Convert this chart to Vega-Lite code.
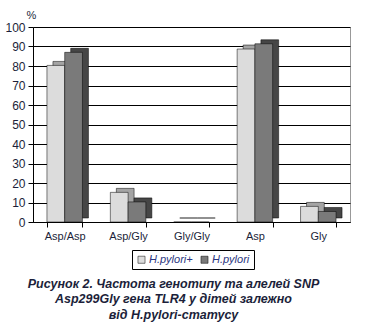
{
  "$schema": "https://vega.github.io/schema/vega-lite/v6.json",
  "width": 317,
  "height": 195,
  "autosize": {"type": "none"},
  "padding": {"left": 33, "top": 27, "right": 18, "bottom": 108},
  "background": "white",
  "data": {
    "values": [
      {"category": "Asp/Asp", "group": "H.pylori+", "value": 80.3},
      {"category": "Asp/Asp", "group": "H.pylori", "value": 87.0},
      {"category": "Asp/Gly", "group": "H.pylori+", "value": 15.2},
      {"category": "Asp/Gly", "group": "H.pylori", "value": 10.3},
      {"category": "Gly/Gly", "group": "H.pylori+", "value": 0},
      {"category": "Gly/Gly", "group": "H.pylori", "value": 0},
      {"category": "Asp", "group": "H.pylori+", "value": 88.7},
      {"category": "Asp", "group": "H.pylori", "value": 91.4},
      {"category": "Gly", "group": "H.pylori+", "value": 8.0},
      {"category": "Gly", "group": "H.pylori", "value": 5.4}
    ]
  },
  "title": {
    "text": ["Рисунок 2. Частота генотипу та алелей SNP", "Asp299Gly гена TLR4 у дітей залежно", "від H.pylori-статусу"],
    "orient": "bottom",
    "anchor": "middle",
    "frame": "group",
    "dx": -18,
    "offset": 8,
    "font": "Liberation Sans",
    "fontSize": 12.5,
    "fontWeight": "bold",
    "fontStyle": "italic",
    "lineHeight": 15.5,
    "color": "#1c1f3a"
  },
  "encoding": {
    "x": {
      "field": "category",
      "type": "nominal",
      "sort": ["Asp/Asp", "Asp/Gly", "Gly/Gly", "Asp", "Gly"],
      "scale": {"paddingInner": 0.44, "paddingOuter": 0.22},
      "axis": {
        "title": null,
        "labelAngle": 0,
        "tickBand": "extent",
        "tickSize": 5,
        "tickColor": "#000",
        "domainColor": "#000",
        "labelFont": "Liberation Sans",
        "labelFontSize": 11,
        "labelColor": "#1c1f3a",
        "labelPadding": 3,
        "grid": false
      }
    },
    "y": {
      "field": "value",
      "type": "quantitative",
      "scale": {"domain": [0, 100], "nice": false},
      "axis": {
        "title": "%",
        "titleAngle": 0,
        "titleX": -2,
        "titleY": -12,
        "titleAlign": "center",
        "titleBaseline": "middle",
        "titleFont": "Liberation Sans",
        "titleFontSize": 11,
        "titleFontWeight": "normal",
        "titleColor": "#1c1f3a",
        "values": [0, 10, 20, 30, 40, 50, 60, 70, 80, 90, 100],
        "tickSize": 5,
        "tickColor": "#000",
        "domainColor": "#000",
        "labelFont": "Liberation Sans",
        "labelFontSize": 12,
        "labelColor": "#1c1f3a",
        "labelPadding": 3,
        "grid": true,
        "gridColor": "#000",
        "gridWidth": 1
      }
    }
  },
  "layer": [
    {
      "mark": {"type": "bar", "yOffset": -4, "y2Offset": -4, "stroke": "#000", "strokeWidth": 0.5},
      "encoding": {
        "xOffset": {
          "field": "group",
          "type": "nominal",
          "sort": ["H.pylori+", "H.pylori"],
          "scale": {"paddingInner": 0, "paddingOuter": 0, "range": [6, 41.5]}
        },
        "fill": {
          "field": "group",
          "type": "nominal",
          "sort": ["H.pylori+", "H.pylori"],
          "scale": {"domain": ["H.pylori+", "H.pylori"], "range": ["#a4a4a4", "#464646"]},
          "legend": null
        }
      }
    },
    {
      "mark": {"type": "bar", "stroke": "#000", "strokeWidth": 0.5},
      "encoding": {
        "xOffset": {
          "field": "group",
          "type": "nominal",
          "sort": ["H.pylori+", "H.pylori"],
          "scale": {"paddingInner": 0, "paddingOuter": 0}
        },
        "color": {
          "field": "group",
          "type": "nominal",
          "sort": ["H.pylori+", "H.pylori"],
          "scale": {"domain": ["H.pylori+", "H.pylori"], "range": ["#dcdcdc", "#7a7a7a"]},
          "legend": {
            "title": null,
            "orient": "none",
            "legendX": 99,
            "legendY": 223,
            "direction": "horizontal",
            "strokeColor": "#000",
            "padding": 4,
            "symbolType": "square",
            "symbolSize": 50,
            "symbolStrokeColor": "#000",
            "symbolStrokeWidth": 0.5,
            "labelFont": "Liberation Sans",
            "labelFontSize": 11,
            "labelFontStyle": "italic",
            "labelColor": "#2a3580",
            "columnPadding": 6,
            "labelOffset": 2
          }
        }
      }
    }
  ],
  "resolve": {"scale": {"xOffset": "independent"}, "legend": {"color": "independent"}},
  "config": {
    "view": {"stroke": "#999"}
  }
}
